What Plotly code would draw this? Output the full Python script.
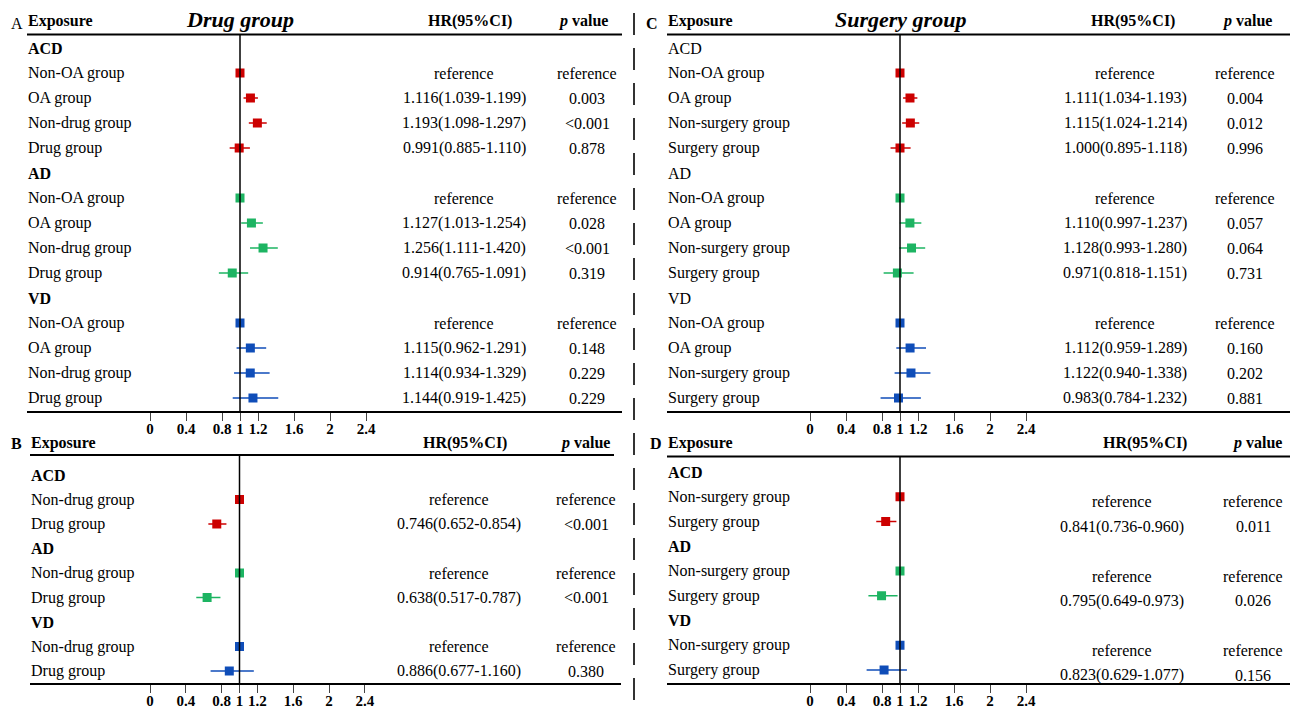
import plotly.graph_objects as go

W, H = 1294, 709
FONT = "Liberation Serif, Times New Roman, serif"

# ---------------- DATA ----------------
groups = ["ACD", "AD", "VD"]
group_colors = ["#CC0000", "#1DB462", "#0F4DB8"]

# Panel A: Drug group (OA analysis)
a_sub = ["Non-OA group", "OA group", "Non-drug group", "Drug group"]
a_hr = [[1.000, 1.116, 1.193, 0.991], [1.000, 1.127, 1.256, 0.914], [1.000, 1.115, 1.114, 1.144]]
a_lo = [[None, 1.039, 1.098, 0.885], [None, 1.013, 1.111, 0.765], [None, 0.962, 0.934, 0.919]]
a_hi = [[None, 1.199, 1.297, 1.110], [None, 1.254, 1.420, 1.091], [None, 1.291, 1.329, 1.425]]
a_p = [["reference", "0.003", "<0.001", "0.878"], ["reference", "0.028", "<0.001", "0.319"],
       ["reference", "0.148", "0.229", "0.229"]]

# Panel B: Drug vs non-drug
b_sub = ["Non-drug group", "Drug group"]
b_hr = [[1.000, 0.746], [1.000, 0.638], [1.000, 0.886]]
b_lo = [[None, 0.652], [None, 0.517], [None, 0.677]]
b_hi = [[None, 0.854], [None, 0.787], [None, 1.160]]
b_p = [["reference", "<0.001"], ["reference", "<0.001"], ["reference", "0.380"]]

# Panel C: Surgery group (OA analysis)
c_sub = ["Non-OA group", "OA group", "Non-surgery group", "Surgery group"]
c_hr = [[1.000, 1.111, 1.115, 1.000], [1.000, 1.110, 1.128, 0.971], [1.000, 1.112, 1.122, 0.983]]
c_lo = [[None, 1.034, 1.024, 0.895], [None, 0.997, 0.993, 0.818], [None, 0.959, 0.940, 0.784]]
c_hi = [[None, 1.193, 1.214, 1.118], [None, 1.237, 1.280, 1.151], [None, 1.289, 1.338, 1.232]]
c_p = [["reference", "0.004", "0.012", "0.996"], ["reference", "0.057", "0.064", "0.731"],
       ["reference", "0.160", "0.202", "0.881"]]

# Panel D: Surgery vs non-surgery
d_sub = ["Non-surgery group", "Surgery group"]
d_hr = [[1.000, 0.841], [1.000, 0.795], [1.000, 0.823]]
d_lo = [[None, 0.736], [None, 0.649], [None, 0.629]]
d_hi = [[None, 0.960], [None, 0.973], [None, 1.077]]
d_p = [["reference", "0.011"], ["reference", "0.026"], ["reference", "0.156"]]

tick_vals = [0, 0.4, 0.8, 1, 1.2, 1.6, 2, 2.4]
tick_text = ["0", "0.4", "0.8", "1", "1.2", "1.6", "2", "2.4"]

# ---------------- LAYOUT GEOMETRY (pixels) ----------------
panels = [
    dict(n=1, sub=a_sub, hr=a_hr, lo=a_lo, hi=a_hi, p=a_p,
         dom=(27, 622), zero=150, scale=90, ytop=34.5, ybot=411, row0=48, step=25,
         head_y=21, lab_x=26, hr_x=464, p_x=587, hrh_x=470, ph_x=583, hline_x1=622,
         txt_off=0, gbold=True, letter="A", let_x=17, let_y=24, let_bold=False,
         title="Drug group", title_x=240),
    dict(n=2, sub=b_sub, hr=b_hr, lo=b_lo, hi=b_hi, p=b_p,
         dom=(30, 621), zero=150, scale=89.5, ytop=455, ybot=683, row0=475, step=24.5,
         head_y=443, lab_x=29, hr_x=459, p_x=586, hrh_x=465, ph_x=585, hline_x1=614,
         txt_off=0, gbold=True, letter="B", let_x=16, let_y=443, let_bold=True,
         title=None, title_x=None),
    dict(n=3, sub=c_sub, hr=c_hr, lo=c_lo, hi=c_hi, p=c_p,
         dom=(667, 1290), zero=810, scale=90, ytop=34.5, ybot=411, row0=48, step=25,
         head_y=21, lab_x=666, hr_x=1125, p_x=1245, hrh_x=1133, ph_x=1247, hline_x1=1290,
         txt_off=0, gbold=False, letter="C", let_x=652, let_y=24, let_bold=True,
         title="Surgery group", title_x=900),
    dict(n=4, sub=d_sub, hr=d_hr, lo=d_lo, hi=d_hi, p=d_p,
         dom=(667, 1290), zero=810, scale=90, ytop=456.5, ybot=683, row0=472, step=24.75,
         head_y=443, lab_x=666, hr_x=1122, p_x=1253, hrh_x=1145, ph_x=1257, hline_x1=1290,
         txt_off=5, gbold=True, letter="D", let_x=656, let_y=443, let_bold=True,
         title=None, title_x=None),
]


def pxx(x):
    return x / W


def pxy(y):
    return 1 - y / H


fig = go.Figure()
annotations = []
shapes = []
layout_axes = {}

for P in panels:
    n = P["n"]
    sfx = "" if n == 1 else str(n)
    xa, ya = "x" + sfx, "y" + sfx
    step = P["step"]

    row = 0
    for gi, g in enumerate(groups):
        gtxt = f"<b>{g}</b>" if P["gbold"] else g
        annotations.append(dict(text=gtxt, xref="paper", x=pxx(P["lab_x"]), xanchor="left",
                                yref=ya, y=row, yanchor="middle", showarrow=False,
                                font=dict(size=16, family=FONT, color="black")))
        row += 1
        xs, ys, ep, em = [], [], [], []
        for si, s in enumerate(P["sub"]):
            hr = P["hr"][gi][si]
            lo = P["lo"][gi][si]
            hi = P["hi"][gi][si]
            annotations.append(dict(text=s, xref="paper", x=pxx(P["lab_x"]), xanchor="left",
                                    yref=ya, y=row, yanchor="middle", showarrow=False,
                                    font=dict(size=16, family=FONT, color="black")))
            hrtxt = "reference" if lo is None else f"{hr:.3f}({lo:.3f}-{hi:.3f})"
            ty = row + P["txt_off"] / step
            annotations.append(dict(text=hrtxt, xref="paper", x=pxx(P["hr_x"]), xanchor="center",
                                    yref=ya, y=ty, yanchor="middle", showarrow=False,
                                    font=dict(size=16, family=FONT, color="black")))
            annotations.append(dict(text=P["p"][gi][si], xref="paper", x=pxx(P["p_x"]),
                                    xanchor="center", yref=ya, y=ty, yanchor="middle",
                                    showarrow=False, font=dict(size=16, family=FONT, color="black")))
            xs.append(hr)
            ys.append(row)
            ep.append(0 if hi is None else hi - hr)
            em.append(0 if lo is None else hr - lo)
            row += 1
        fig.add_trace(go.Scatter(
            x=xs, y=ys, mode="markers", xaxis=xa, yaxis=ya, showlegend=False,
            marker=dict(symbol="square", size=9, color=group_colors[gi]),
            error_x=dict(type="data", symmetric=False, array=ep, arrayminus=em,
                         thickness=1.5, width=0, color=group_colors[gi]),
            hoverinfo="skip"))

    x0, x1 = P["dom"]
    layout_axes["xaxis" + sfx] = dict(
        domain=[pxx(x0), pxx(x1)],
        range=[(x0 - P["zero"]) / P["scale"], (x1 - P["zero"]) / P["scale"]],
        anchor=ya, showline=True, linecolor="black", linewidth=2,
        ticks="outside", ticklen=8, tickwidth=1, tickcolor="#444",
        ticklabelstandoff=-5,
        tickvals=tick_vals, ticktext=[f"<b>{t}</b>" for t in tick_text],
        tickfont=dict(size=15, family=FONT, color="black"),
        showgrid=False, zeroline=False, fixedrange=True)
    layout_axes["yaxis" + sfx] = dict(
        domain=[pxy(P["ybot"]), pxy(P["ytop"])],
        range=[(P["ybot"] - P["row0"]) / step, (P["ytop"] - P["row0"]) / step],
        anchor=xa, visible=False, showgrid=False, zeroline=False, fixedrange=True)

    shapes.append(dict(type="line", xref="paper", yref="paper",
                       x0=pxx(x0), x1=pxx(P["hline_x1"]), y0=pxy(P["ytop"]), y1=pxy(P["ytop"]),
                       line=dict(color="black", width=2)))
    shapes.append(dict(type="line", xref=xa, yref=ya + " domain", x0=1, x1=1, y0=0, y1=1,
                       line=dict(color="black", width=1.5)))

    hy = pxy(P["head_y"])
    annotations.append(dict(text="<b>Exposure</b>", xref="paper", x=pxx(P["lab_x"]), xanchor="left",
                            yref="paper", y=hy, yanchor="middle", showarrow=False,
                            font=dict(size=16, family=FONT, color="black")))
    annotations.append(dict(text="<b>HR(95%CI)</b>", xref="paper", x=pxx(P["hrh_x"]), xanchor="center",
                            yref="paper", y=hy, yanchor="middle", showarrow=False,
                            font=dict(size=16, family=FONT, color="black")))
    annotations.append(dict(text="<b><i>p</i> value</b>", xref="paper", x=pxx(P["ph_x"]), xanchor="center",
                            yref="paper", y=hy, yanchor="middle", showarrow=False,
                            font=dict(size=16, family=FONT, color="black")))
    ltxt = f"<b>{P['letter']}</b>" if P["let_bold"] else P["letter"]
    annotations.append(dict(text=ltxt, xref="paper", x=pxx(P["let_x"]), xanchor="center",
                            yref="paper", y=pxy(P["let_y"]), yanchor="middle", showarrow=False,
                            font=dict(size=16, family=FONT, color="black")))
    if P["title"]:
        annotations.append(dict(text=f"<b><i>{P['title']}</i></b>", xref="paper", x=pxx(P["title_x"]),
                                xanchor="center", yref="paper", y=pxy(P["head_y"] - 1), yanchor="middle",
                                showarrow=False, font=dict(size=22, family=FONT, color="black")))

shapes.append(dict(type="line", xref="paper", yref="paper", x0=pxx(634), x1=pxx(634),
                   y0=pxy(13), y1=pxy(700), line=dict(color="#333333", width=2, dash="22px,13px")))

fig.update_layout(
    width=W, height=H, margin=dict(l=0, r=0, t=0, b=0),
    paper_bgcolor="white", plot_bgcolor="white",
    font=dict(family=FONT, size=16, color="black"),
    annotations=annotations, shapes=shapes, showlegend=False,
    **layout_axes)

fig.write_html("out.html", config={"displayModeBar": False},
               post_script="document.body.style.margin='0';document.body.style.overflow='hidden';")
